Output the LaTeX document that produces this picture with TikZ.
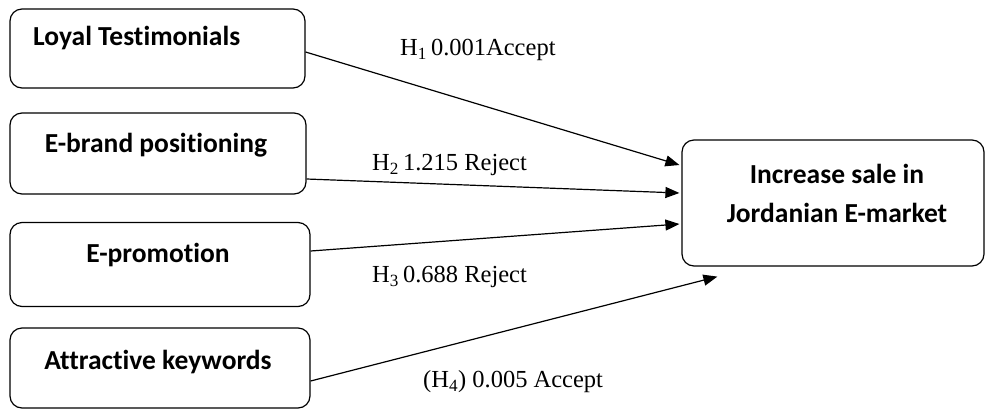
\documentclass[tikz,border=0pt]{standalone}
\usepackage{fontspec}
\setmainfont{Liberation Serif}
\newfontfamily\boxfont[Ligatures={NoCommon,NoRare,NoContextual}]{Carlito}
\usetikzlibrary{arrows.meta,calc}
\begin{document}
\begin{tikzpicture}[x=1pt,y=-1pt,
  box/.style={draw,line width=1.2pt,rounded corners=12pt,inner sep=0pt},
  boxtext/.style={font=\boxfont\bfseries\fontsize{27.5}{33}\selectfont,inner sep=0pt},
  lab/.style={font=\fontsize{24.5}{28}\selectfont,inner sep=0pt},
  conn/.style={line width=1.2pt,-{Triangle[length=14pt,width=11pt]}}]
\useasboundingbox (0,0) rectangle (985,408);
% left boxes
\node[box,minimum width=295pt,minimum height=79pt] (b1) at (157.5,48.5) {};
\node[box,minimum width=296pt,minimum height=81pt] (b2) at (158,153.5) {};
\node[box,minimum width=300pt,minimum height=84pt] (b3) at (160,264.5) {};
\node[box,minimum width=300pt,minimum height=80pt] (b4) at (160,368) {};
% target
\node[box,minimum width=302pt,minimum height=126pt] (t) at (833,203) {};
% texts
\node[boxtext,anchor=west] (t1) at (33,38) {Loyal Testimonials};
\node[boxtext] (t2) at (156,145) {E-brand positioning};
\node[boxtext] (t3) at (158,255) {E-promotion};
\node[boxtext] (t4) at (158,362) {Attractive keywords};
\node[boxtext,align=center] (tt) at (837,193) {Increase sale in\\[6pt]Jordanian E-market};
% connectors
\draw[conn] ([yshift=-3.5pt]b1.east) -- ([xshift=-2pt,yshift=38pt]t.west);
\draw[conn] ([yshift=-25.5pt]b2.east) -- ([xshift=-2pt,yshift=10pt]t.west);
\draw[conn] ([yshift=13.5pt]b3.east) -- ([xshift=-2pt,yshift=-21pt]t.west);
\draw[conn] ([yshift=-13pt]b4.east) -- ([xshift=36pt,yshift=-10pt]t.south west);
% labels
\node[lab,anchor=west] (l1) at (400,50) {H\textsubscript{1}\,0.001Accept};
\node[lab,anchor=west] (l2) at (372,165) {H\textsubscript{2}\,1.215 Reject};
\node[lab,anchor=west] (l3) at (372,277) {H\textsubscript{3}\,0.688 Reject};
\node[lab,anchor=west] (l4) at (423,382) {(H\textsubscript{4}) 0.005 Accept};
\end{tikzpicture}
\end{document}
